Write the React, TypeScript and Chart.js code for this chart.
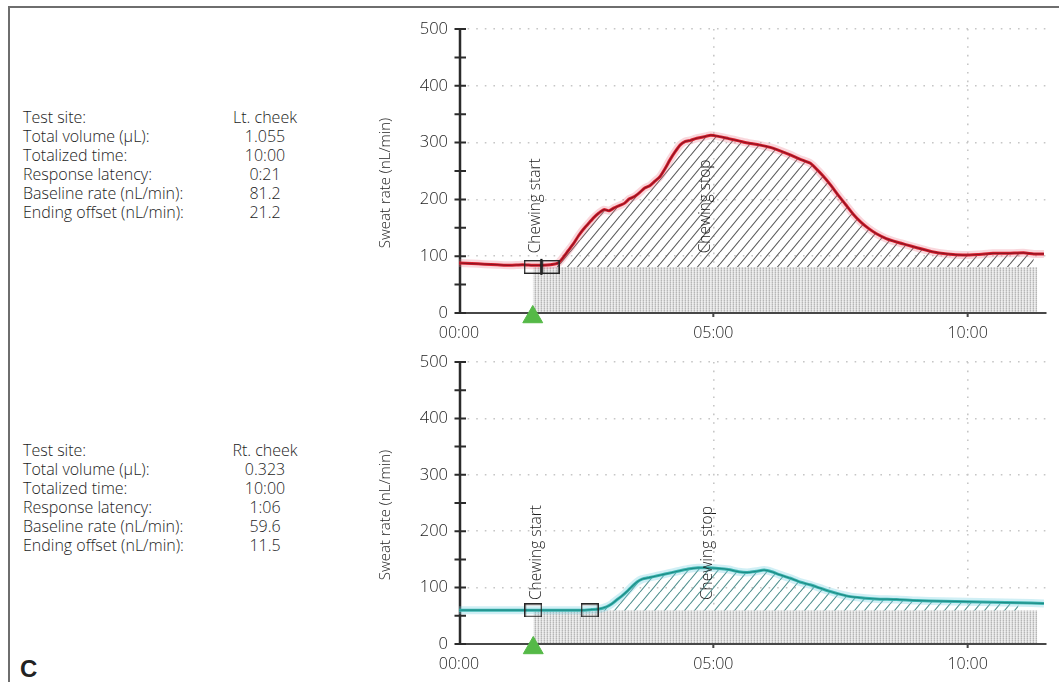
import React, { useEffect, useRef } from "react";
import { Chart, registerables } from "chart.js";
Chart.register(...registerables);

// ---------------- data ----------------
const topTime = [0, 0.25, 0.5, 0.75, 1.0, 1.25, 1.45, 1.65, 1.8, 1.95, 2.05, 2.15, 2.25, 2.35, 2.45, 2.55, 2.65, 2.75, 2.85, 2.95, 3.05, 3.15, 3.25, 3.35, 3.45, 3.55, 3.65, 3.75, 3.85, 3.95, 4.05, 4.15, 4.25, 4.35, 4.45, 4.55, 4.65, 4.75, 4.85, 4.95, 5.1, 5.3, 5.5, 5.7, 5.9, 6.1, 6.3, 6.5, 6.7, 6.9, 7.0, 7.15, 7.3, 7.45, 7.6, 7.75, 7.9, 8.05, 8.2, 8.4, 8.6, 8.8, 9.0, 9.3, 9.6, 9.9, 10.2, 10.5, 10.8, 11.1, 11.3, 11.5];
const topRate = [88, 87, 86, 85, 84, 85, 84, 84, 85, 88, 98, 110, 122, 136, 148, 158, 168, 176, 182, 180, 185, 189, 193, 201, 205, 212, 220, 224, 232, 240, 254, 270, 284, 296, 302, 304, 307, 309, 311, 313, 311, 307, 303, 299, 296, 292, 286, 279, 271, 264, 256, 242, 226, 208, 191, 174, 160, 149, 140, 131, 125, 120, 115, 108, 104, 102, 103, 105, 105, 106, 104, 104];

const bottomTime = [0, 0.5, 1.0, 1.46, 2.0, 2.4, 2.6, 2.75, 2.9, 3.0, 3.1, 3.2, 3.3, 3.4, 3.5, 3.6, 3.75, 3.9, 4.05, 4.2, 4.35, 4.5, 4.7, 4.9, 5.1, 5.3, 5.5, 5.7, 5.85, 6.0, 6.15, 6.3, 6.5, 6.7, 6.9, 7.1, 7.3, 7.5, 7.7, 7.9, 8.2, 8.6, 9.0, 9.5, 10.0, 10.5, 11.0, 11.5];
const bottomRate = [60, 60, 60, 60, 60, 60, 61, 62, 66, 71, 78, 85, 93, 102, 110, 115, 118, 121, 124, 127, 130, 133, 135, 135, 134, 132, 128, 127, 129, 131, 128, 123, 117, 110, 105, 99, 93, 88, 84, 82, 80, 79, 77, 76, 75, 74, 73, 72];

const yTickValues = [0, 50, 100, 150, 200, 250, 300, 350, 400, 450, 500];
const xTickValues = [0, 5, 10];
const xTickLabels = ["00:00", "05:00", "10:00"];
const X_MAX = 11.55;
const Y_MAX = 500;

const infoLabels = ["Test site:", "Total volume (\u00b5L):", "Totalized time:", "Response latency:", "Baseline rate (nL/min):", "Ending offset (nL/min):"];
const topInfoValues = ["Lt. cheek", "1.055", "10:00", "0:21", "81.2", "21.2"];
const bottomInfoValues = ["Rt. cheek", "0.323", "10:00", "1:06", "59.6", "11.5"];

const topBaseline = 81.2;
const bottomBaseline = 59.6;
const topStart = 1.45;
const topResponse = 1.8;
const bottomStart = 1.46;
const bottomResponse = 2.57;
const topStop = 4.78;
const bottomStop = 4.82;
const topLatencyMarks = [1.62];
const bottomLatencyMarks: number[] = [];
const fillEnd = 11.37;
const topLabelY = 105;
const bottomLabelY = 78;
const triangleY = -7;

const FONT = '"Open Sans", "Noto Sans", sans-serif';
const TXT = "#1c1c1c";

// ---------------- helpers ----------------
function hatchPattern(color: string) {
  const w = 10, h = 12;
  const c = document.createElement("canvas");
  c.width = w; c.height = h;
  const g = c.getContext("2d")!;
  g.strokeStyle = color; g.lineWidth = 1.1;
  g.beginPath();
  g.moveTo(0, h); g.lineTo(w, 0);
  g.moveTo(-w, h); g.lineTo(0, 0);
  g.moveTo(w, h); g.lineTo(2 * w, 0);
  g.stroke();
  return g.createPattern(c, "repeat")!;
}

function stipplePattern() {
  const c = document.createElement("canvas");
  c.width = 3; c.height = 2;
  const g = c.getContext("2d")!;
  const px = [["#b6b6b6", "#e6e6e6", "#dadada"], ["#cecece", "#f0f0f0", "#e6e6e6"]];
  for (let y = 0; y < 2; y++) for (let x = 0; x < 3; x++) { g.fillStyle = px[y][x]; g.fillRect(x, y, 1, 1); }
  return g.createPattern(c, "repeat")!;
}

function boxImage() {
  const c = document.createElement("canvas");
  c.width = 18; c.height = 14;
  const g = c.getContext("2d")!;
  g.strokeStyle = "#262626"; g.lineWidth = 1.4;
  g.strokeRect(0.7, 0.7, 16.6, 12.6);
  return c;
}

type Params = {
  times: number[]; rates: number[]; baseline: number; start: number; response: number; stop: number;
  latency: number[]; labelY: number; padTop: number; xHeight: number;
  core: string; line: string; glow: string; hatch: string;
};

function buildConfig(p: Params): any {
  const pts = p.times.map((t, i) => ({ x: t, y: p.rates[i] }));
  const hatchPts = pts.filter((d) => d.x >= p.response && d.x <= fillEnd);
  const STIPPLE_INDEX = 7;
  const decor = {
    id: "decor",
    afterDatasetDraw(chart: any, args: any) {
      if (args.index !== STIPPLE_INDEX) return;
      const { ctx, chartArea: a, scales } = chart;
      const x = scales.x, y = scales.y;
      const y0 = y.getPixelForValue(0);
      ctx.save();
      ctx.strokeStyle = "#474747"; ctx.lineWidth = 2;
      ctx.beginPath(); ctx.moveTo(a.left, y0); ctx.lineTo(a.right, y0); ctx.stroke();
      ctx.beginPath();
      xTickValues.forEach((v) => { if (v > 0) { const px = x.getPixelForValue(v); ctx.moveTo(px, y0); ctx.lineTo(px, y0 + 4); } });
      ctx.stroke();
      ctx.strokeStyle = "#2b2b2b"; ctx.lineWidth = 2.5;
      ctx.beginPath(); ctx.moveTo(a.left + 1, y0 + 1); ctx.lineTo(a.left + 1, y.getPixelForValue(Y_MAX)); ctx.stroke();
      ctx.lineWidth = 2;
      ctx.beginPath();
      yTickValues.forEach((v) => { const py = y.getPixelForValue(v); ctx.moveTo(a.left - 4.5, py); ctx.lineTo(a.left + 7, py); });
      ctx.stroke();
      ctx.restore();
    },
    afterDatasetsDraw(chart: any) {
      const { ctx, scales } = chart;
      const x = scales.x, y = scales.y;
      ctx.save();
      ctx.fillStyle = TXT;
      ctx.font = `300 15.5px ${FONT}`;
      ctx.textAlign = "left"; ctx.textBaseline = "middle";
      const py = y.getPixelForValue(p.labelY);
      [[p.start, "Chewing start"], [p.stop, "Chewing stop"]].forEach(([t, s]: any) => {
        ctx.save();
        ctx.translate(x.getPixelForValue(t) + 3, py);
        ctx.rotate(-Math.PI / 2);
        ctx.fillText(s, 0, 0);
        ctx.restore();
      });
      ctx.restore();
    },
    afterDraw(chart: any) {
      const { ctx, chartArea: a } = chart;
      ctx.save();
      ctx.fillStyle = TXT;
      ctx.font = `300 15px ${FONT}`;
      ctx.textAlign = "center"; ctx.textBaseline = "middle";
      ctx.translate(16, (a.top + a.bottom) / 2 + 12);
      ctx.rotate(-Math.PI / 2);
      ctx.fillText("Sweat rate (nL/min)", 0, 0);
      ctx.restore();
    },
  };

  return {
    type: "line",
    data: {
      datasets: [
        { // 0 boxes
          data: [{ x: p.start, y: p.baseline }, { x: p.response, y: p.baseline }],
          showLine: false, pointStyle: boxImage(), pointRadius: 8, clip: false,
        },
        { // 1 latency tick
          data: p.latency.map((t) => ({ x: t, y: p.baseline })),
          showLine: false, pointStyle: "line", rotation: 90, pointRadius: 8,
          pointBorderColor: "#111", pointBorderWidth: 2.2, clip: false,
        },
        { // 2 start triangle
          data: [{ x: p.start, y: triangleY }],
          showLine: false, pointStyle: "triangle", pointRadius: 11.5,
          pointBackgroundColor: "#55b947", pointBorderColor: "#55b947", pointBorderWidth: 1, clip: false,
        },
        { data: pts, borderColor: p.core, borderWidth: 1.2, pointRadius: 0, tension: 0.2, fill: false },
        { data: pts, borderColor: p.line, borderWidth: 3, pointRadius: 0, tension: 0.2, fill: false },
        { data: pts, borderColor: p.glow, borderWidth: 8, pointRadius: 0, tension: 0.2, fill: false },
        { // 6 hatch
          data: hatchPts, borderWidth: 0, borderColor: "rgba(0,0,0,0)", pointRadius: 0, tension: 0.2,
          fill: { value: p.baseline }, backgroundColor: hatchPattern(p.hatch),
        },
        { // 7 stipple baseline area
          data: [{ x: p.start, y: p.baseline }, { x: fillEnd, y: p.baseline }],
          borderWidth: 0, borderColor: "rgba(0,0,0,0)", pointRadius: 0,
          fill: "origin", backgroundColor: stipplePattern(),
        },
      ],
    },
    options: {
      responsive: false,
      animation: false,
      events: [],
      layout: { padding: { top: p.padTop, right: 11, left: 0, bottom: 0 } },
      plugins: { legend: { display: false }, tooltip: { enabled: false }, title: { display: false } },
      scales: {
        x: {
          type: "linear", min: 0, max: X_MAX,
          afterBuildTicks: (s: any) => { s.ticks = xTickValues.map((v) => ({ value: v })); },
          afterFit: (s: any) => { s.height = p.xHeight; },
          ticks: {
            autoSkip: false, maxRotation: 0, padding: 11,
            font: { family: FONT, size: 16, weight: "300" }, color: TXT,
            callback: (v: any) => xTickLabels[xTickValues.indexOf(Number(v))] ?? "",
          },
          grid: {
            drawTicks: false, lineWidth: 1.6,
            color: (c: any) => (c.tick && c.tick.value > 0 ? "#c6c6c6" : "rgba(0,0,0,0)"),
          },
          border: { display: false, dash: [1.6, 7] },
        },
        y: {
          type: "linear", min: 0, max: Y_MAX,
          afterBuildTicks: (s: any) => { s.ticks = yTickValues.map((v) => ({ value: v })); },
          afterFit: (s: any) => { s.width = 89; },
          ticks: {
            autoSkip: false, padding: 11,
            font: { family: FONT, size: 16.5, weight: "300" }, color: TXT,
            callback: (v: any) => (Number(v) % 100 === 0 ? String(v) : ""),
          },
          grid: {
            drawTicks: false, lineWidth: 1.6,
            color: (c: any) => (c.tick && c.tick.value > 0 && c.tick.value % 100 === 0 ? "#c6c6c6" : "rgba(0,0,0,0)"),
          },
          border: { display: false, dash: [1.6, 7] },
        },
      },
    },
    plugins: [decor],
  };
}

function SweatChart(props: { params: Params; top: number; height: number }) {
  const ref = useRef<HTMLCanvasElement | null>(null);
  useEffect(() => {
    const chart = new Chart(ref.current!, buildConfig(props.params));
    return () => chart.destroy();
  }, []);
  return (
    <canvas
      ref={ref}
      width={689}
      height={props.height}
      style={{ position: "absolute", left: 370, top: props.top, width: 689, height: props.height }}
    />
  );
}

function InfoBlock(props: { top: number; values: string[] }) {
  return (
    <div style={{ position: "absolute", left: 0, top: props.top, fontFamily: FONT, fontWeight: 300, fontSize: 16, lineHeight: "19px", color: TXT }}>
      {infoLabels.map((l, i) => (
        <div key={i} style={{ position: "relative", height: 19, whiteSpace: "nowrap" }}>
          <span style={{ position: "absolute", left: 23 }}>{l}</span>
          <span style={{ position: "absolute", left: 205, width: 120, textAlign: "center" }}>{props.values[i]}</span>
        </div>
      ))}
    </div>
  );
}

const topParams: Params = {
  times: topTime, rates: topRate, baseline: topBaseline, start: topStart, response: topResponse, stop: topStop,
  latency: topLatencyMarks, labelY: topLabelY, padTop: 29, xHeight: 27,
  core: "#8e1423", line: "#d9202e", glow: "rgba(235,110,130,0.28)", hatch: "#5a5a5a",
};
const bottomParams: Params = {
  times: bottomTime, rates: bottomRate, baseline: bottomBaseline, start: bottomStart, response: bottomResponse, stop: bottomStop,
  latency: bottomLatencyMarks, labelY: bottomLabelY, padTop: 22, xHeight: 38,
  core: "#1d8b86", line: "#3fb7b2", glow: "rgba(120,210,225,0.35)", hatch: "#4e8f8e",
};

export default function App() {
  return (
    <div style={{ position: "absolute", left: 0, top: 0, width: 1059, height: 682, background: "#fff", overflow: "hidden" }}>
      <div style={{ position: "absolute", left: 8, top: 6, width: 1051, height: 2, background: "#6e6e6e" }} />
      <div style={{ position: "absolute", left: 8, top: 6, width: 2, height: 676, background: "#6e6e6e" }} />
      <InfoBlock top={107.5} values={topInfoValues} />
      <InfoBlock top={440.5} values={bottomInfoValues} />
      <div style={{ position: "absolute", left: 20, top: 657, fontFamily: '"Liberation Sans", Arial, sans-serif', fontWeight: "bold", fontSize: 24, lineHeight: "24px", color: "#222" }}>C</div>
      <SweatChart params={topParams} top={0} height={340} />
      <SweatChart params={bottomParams} top={340} height={342} />
    </div>
  );
}
